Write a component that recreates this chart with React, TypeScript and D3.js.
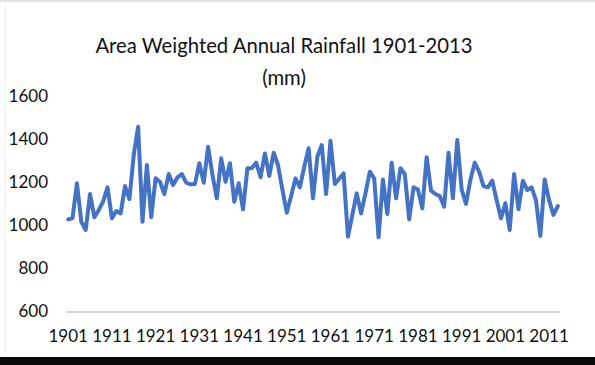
import React, { useRef, useEffect } from "react";
import * as d3 from "d3";

const years: number[] = d3.range(1901, 2014);

// annual rainfall in mm (1901-2013)
const rainfall: number[] = [
  1026, 1032, 1194, 1015, 977, 1144, 1036, 1070, 1110, 1175,
  1031, 1065, 1054, 1181, 1120, 1326, 1457, 1015, 1279, 1036,
  1217, 1201, 1144, 1237, 1186, 1222, 1237, 1197, 1189, 1191,
  1287, 1197, 1364, 1233, 1124, 1310, 1201, 1287, 1108, 1194,
  1073, 1264, 1264, 1290, 1222, 1333, 1228, 1336, 1278, 1165,
  1057, 1135, 1217, 1175, 1271, 1357, 1124, 1318, 1372, 1144,
  1392, 1191, 1215, 1240, 946, 1047, 1147, 1054, 1147, 1248,
  1217, 943, 1212, 1051, 1290, 1124, 1264, 1237, 1026, 1175,
  1165, 1078, 1315, 1160, 1144, 1135, 1085, 1336, 1124, 1395,
  1166, 1098, 1210, 1290, 1248, 1181, 1175, 1206, 1116, 1031,
  1101, 977, 1237, 1073, 1206, 1163, 1175, 1116, 949, 1212,
  1116, 1047, 1088,
];

const xTickLabels: string[] = [
  "1901", "1911", "1921", "1931", "1941", "1951",
  "1961", "1971", "1981", "1991", "2001", "2011",
];
const yTicks: number[] = [600, 800, 1000, 1200, 1400, 1600];
const titleLines: string[] = ["Area Weighted Annual Rainfall 1901-2013", "(mm)"];

const W = 595;
const H = 365;
const FONT = "Lato, 'Open Sans', sans-serif";

const RainfallChart = () => {
  const svgRef = useRef<SVGSVGElement>(null);

  useEffect(() => {
    const svg = d3.select(svgRef.current);
    svg.selectAll("*").remove();

    // background + frame bits from the screenshot
    svg.append("rect").attr("width", W).attr("height", H).attr("fill", "#ffffff");
    svg.append("rect").attr("x", 0).attr("y", 0).attr("width", W).attr("height", 2).attr("fill", "#e4e4e4");
    svg.append("rect").attr("x", 5).attr("y", 2).attr("width", 1).attr("height", 355).attr("fill", "#f2f2f2");
    svg.append("rect").attr("x", 0).attr("y", 357).attr("width", W).attr("height", H - 357).attr("fill", "#0a0a0a");

    const x = d3
      .scaleBand<string>()
      .domain(years.map(String))
      .range([66, 560]);

    const y = d3.scaleLinear().domain([600, 1600]).range([311, 96]);

    // title
    svg
      .append("g")
      .selectAll("text")
      .data(titleLines)
      .enter()
      .append("text")
      .attr("x", 284)
      .attr("y", (_, i) => 53 + i * 32)
      .attr("text-anchor", "middle")
      .attr("font-family", FONT)
      .attr("font-size", 20.3)
      .attr("fill", "#111")
      .text((d) => d);

    // y tick labels (no gridlines)
    svg
      .append("g")
      .selectAll("text")
      .data(yTicks)
      .enter()
      .append("text")
      .attr("x", 48)
      .attr("y", (d) => y(d))
      .attr("dy", "0.36em")
      .attr("text-anchor", "end")
      .attr("font-family", FONT)
      .attr("font-size", 17)
      .attr("fill", "#111")
      .text((d) => d);

    // x axis line
    svg
      .append("line")
      .attr("x1", 66)
      .attr("x2", 560)
      .attr("y1", y(600) + 1)
      .attr("y2", y(600) + 1)
      .attr("stroke", "#d9d9d9")
      .attr("stroke-width", 2);

    // x tick labels
    svg
      .append("g")
      .selectAll("text")
      .data(xTickLabels)
      .enter()
      .append("text")
      .attr("x", (d) => (x(d) ?? 0) + x.bandwidth() / 2)
      .attr("y", 342)
      .attr("text-anchor", "middle")
      .attr("font-family", FONT)
      .attr("font-size", 17)
      .attr("fill", "#111")
      .text((d) => d);

    // the line
    const line = d3
      .line<number>()
      .x((_, i) => (x(String(years[i])) ?? 0) + x.bandwidth() / 2)
      .y((d) => y(d))
      .curve(d3.curveLinear);

    svg
      .append("path")
      .datum(rainfall)
      .attr("d", line)
      .attr("fill", "none")
      .attr("stroke", "#4472c4")
      .attr("stroke-width", 4)
      .attr("stroke-linejoin", "round")
      .attr("stroke-linecap", "round");
  }, []);

  return (
    <svg
      ref={svgRef}
      width={W}
      height={H}
      style={{ position: "fixed", top: 0, left: 0, display: "block" }}
    ></svg>
  );
};

export default function App() {
  return <RainfallChart />;
}
